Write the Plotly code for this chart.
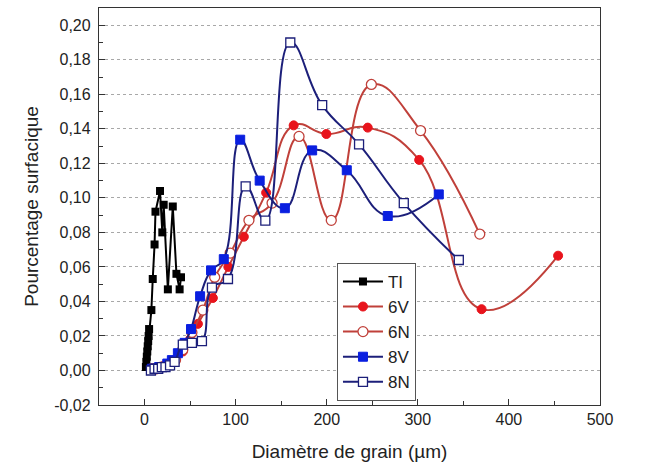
import plotly.graph_objects as go

# ---- data ----
ti_x = [1.5, 2, 2.5, 3, 3.5, 4, 4.5, 5, 7.5, 9, 11, 12, 17, 19.5, 21, 25.6, 31, 35, 38.5, 40]
ti_y = [0.002, 0.005, 0.008, 0.011, 0.014, 0.017, 0.020, 0.024, 0.035, 0.053, 0.073, 0.092,
        0.104, 0.080, 0.096, 0.047, 0.095, 0.056, 0.047, 0.054]

v6_x = [8, 13, 18, 23, 28, 34, 42, 50, 58.6, 75, 92, 109, 133.5, 163.7, 199.6, 245, 301.5, 370, 454]
v6_y = [0.001, 0.001, 0.002, 0.003, 0.004, 0.006, 0.011, 0.018, 0.027, 0.042, 0.060, 0.0775,
        0.103, 0.142, 0.137, 0.1407, 0.122, 0.0355, 0.0665]

n6_x = [8, 13, 18, 23, 28, 34, 42, 52, 64, 77, 94, 114.6, 140, 169.6, 205, 249, 303, 368]
n6_y = [0.001, 0.001, 0.002, 0.003, 0.004, 0.006, 0.012, 0.022, 0.035, 0.054, 0.068, 0.087,
        0.097, 0.1356, 0.087, 0.1657, 0.139, 0.079]

v8_x = [8, 12, 16, 20, 25, 30, 36.6, 44, 51, 61, 73, 87, 105, 126.4, 154, 184, 222, 267, 323]
v8_y = [0.001, 0.001, 0.002, 0.002, 0.004, 0.006, 0.010, 0.016, 0.024, 0.043, 0.058, 0.0645,
        0.1337, 0.110, 0.094, 0.1275, 0.116, 0.0895, 0.102]

n8_x = [7, 11, 15, 19, 23, 28, 33, 42, 52, 63, 74, 91.6, 111, 132.6, 160, 195, 235.5, 284.6, 345]
n8_y = [0.000, 0.001, 0.001, 0.002, 0.002, 0.003, 0.005, 0.015, 0.016, 0.017, 0.048, 0.053,
        0.1067, 0.0868, 0.190, 0.1537, 0.131, 0.097, 0.064]

y_ticks = [-0.02, 0.00, 0.02, 0.04, 0.06, 0.08, 0.10, 0.12, 0.14, 0.16, 0.18, 0.20]
y_labels = ["-0,02", "0,00", "0,02", "0,04", "0,06", "0,08", "0,10", "0,12", "0,14",
            "0,16", "0,18", "0,20"]
x_ticks = [0, 100, 200, 300, 400, 500]

FONT = "Arial, Liberation Sans, sans-serif"
RED_LINE = "#c0403a"
RED_MK = "#e8141c"
NAVY = "#1c1f7a"
BLUE_MK = "#0a1fe0"
SM = 1.3

fig = go.Figure()
fig.add_trace(go.Scatter(
    x=ti_x, y=ti_y, name="TI", mode="lines+markers",
    line=dict(color="black", width=2),
    marker=dict(symbol="square", size=8, color="black")))
fig.add_trace(go.Scatter(
    x=v6_x, y=v6_y, name="6V", mode="lines+markers",
    line=dict(color=RED_LINE, width=2, shape="spline", smoothing=SM),
    marker=dict(symbol="circle", size=9, color=RED_MK, line=dict(color=RED_MK, width=1))))
fig.add_trace(go.Scatter(
    x=n6_x, y=n6_y, name="6N", mode="lines+markers",
    line=dict(color=RED_LINE, width=2, shape="spline", smoothing=SM),
    marker=dict(symbol="circle", size=10, color="white", line=dict(color=RED_LINE, width=1.3))))
fig.add_trace(go.Scatter(
    x=v8_x, y=v8_y, name="8V", mode="lines+markers",
    line=dict(color=NAVY, width=2, shape="spline", smoothing=SM),
    marker=dict(symbol="square", size=9, color=BLUE_MK, line=dict(color=BLUE_MK, width=1))))
fig.add_trace(go.Scatter(
    x=n8_x, y=n8_y, name="8N", mode="lines+markers",
    line=dict(color=NAVY, width=2, shape="spline", smoothing=SM),
    marker=dict(symbol="square", size=9, color="white", line=dict(color=NAVY, width=1.3))))

fig.update_layout(
    width=659, height=462,
    margin=dict(l=99, r=59, t=8, b=57),
    paper_bgcolor="white", plot_bgcolor="white",
    font=dict(family=FONT, color="#222222"),
    showlegend=True,
    legend=dict(x=0.475, y=0.358, xanchor="left", yanchor="top",
                bgcolor="white", bordercolor="#555555", borderwidth=1,
                font=dict(size=17, family=FONT, color="#222222"),
                tracegroupgap=0, itemwidth=40),
)
fig.update_xaxes(
    range=[-50, 500], tickvals=x_ticks, showgrid=False, zeroline=False,
    showline=True, linecolor="#333333", linewidth=1.3, mirror=True,
    ticks="inside", ticklen=6, tickcolor="#333333",
    minor=dict(ticks="inside", ticklen=4, tickmode="linear", tick0=50, dtick=100, tickcolor="#333333"),
    tickfont=dict(size=16, family=FONT, color="#222222"),
    title=dict(text="Diamètre de grain (µm)", font=dict(size=19, family=FONT, color="#222222"), standoff=17),
    automargin=False,
)
fig.update_yaxes(
    range=[-0.02, 0.21], tickvals=y_ticks, ticktext=y_labels,
    showgrid=True, gridcolor="#a8a8a8", griddash="dot", gridwidth=1, zeroline=False,
    showline=True, linecolor="#333333", linewidth=1.3, mirror=True,
    ticks="inside", ticklen=6, tickcolor="#333333",
    minor=dict(ticks="inside", ticklen=4, tickmode="linear", tick0=-0.01, dtick=0.02,
               tickcolor="#333333", showgrid=False),
    tickfont=dict(size=16, family=FONT, color="#222222"),
    ticklabelstandoff=4,
    title=dict(text="Pourcentage surfacique", font=dict(size=19, family=FONT, color="#222222"), standoff=10),
    automargin=False,
)

fig.write_html("out.html")
